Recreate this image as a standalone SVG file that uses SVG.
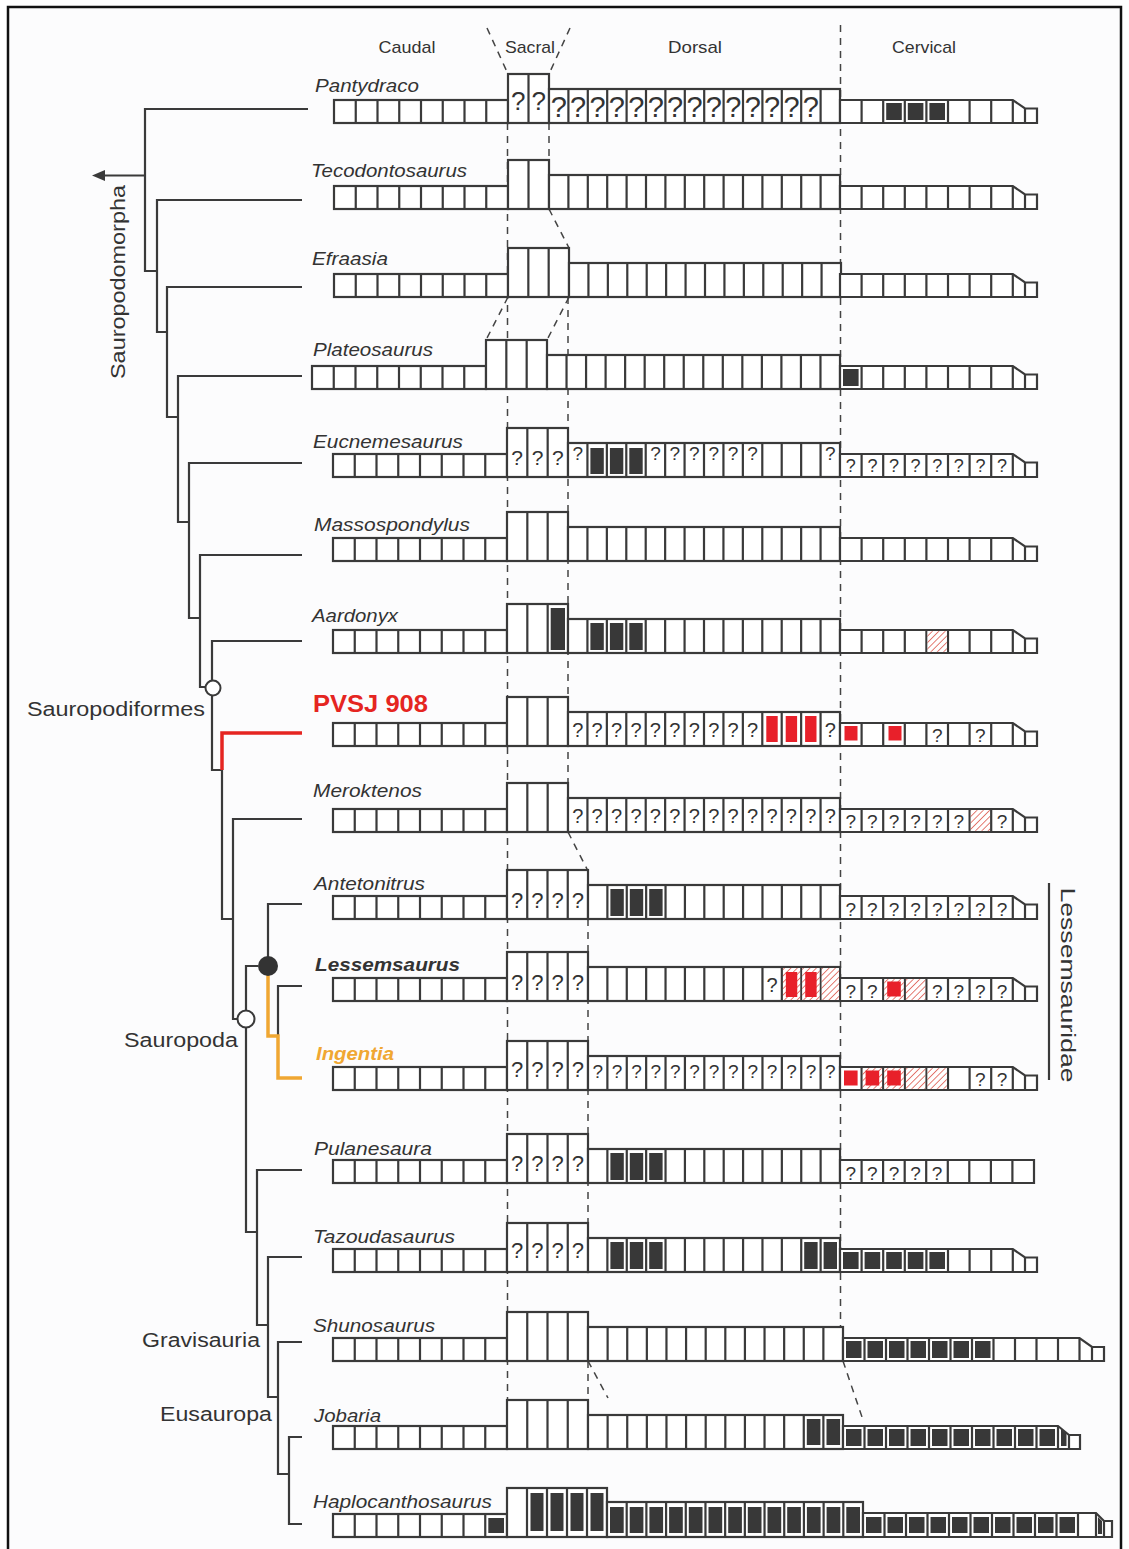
<svg xmlns="http://www.w3.org/2000/svg" xmlns:xlink="http://www.w3.org/1999/xlink" width="1129" height="1549" viewBox="0 0 1129 1549">
<style>
.b{fill:#fff;stroke:#3a3a3a;stroke-width:2.2}
.s{fill:none;stroke:#3a3a3a;stroke-width:2.2}
.k{fill:#383838}
.r{fill:#e8202a}
.h{fill:url(#hatch)}
.q{font-family:"Liberation Sans",Arial,sans-serif;fill:#333;text-anchor:middle;font-size:20px}
.tx{font-family:"Liberation Sans",Arial,sans-serif;font-style:italic;font-size:19px;fill:#333}
.lab{font-family:"Liberation Sans",Arial,sans-serif;font-size:20px;fill:#333}
.hd{font-family:"Liberation Sans",Arial,sans-serif;font-size:17px;fill:#333;text-anchor:middle}
.tr{fill:none;stroke:#3a3a3a;stroke-width:2.2}
.dash{fill:none;stroke:#444;stroke-width:1.5;stroke-dasharray:7 6}
</style>
<defs>
<pattern id="hatch" width="4.5" height="4.5" patternUnits="userSpaceOnUse" patternTransform="rotate(45)"><rect width="4.5" height="4.5" fill="#fff"/><line x1="0" y1="0" x2="0" y2="4.5" stroke="#d9453a" stroke-width="1.4"/></pattern>
<g id="caud"><rect class="b" x="0" y="-23" width="174" height="23"/><path class="s" d="M21.75,-23V0M43.5,-23V0M65.25,-23V0M87,-23V0M108.75,-23V0M130.5,-23V0M152.25,-23V0"/></g>
<g id="cerv8"><path class="b" d="M0,-23H172.8L185,-14.5H197V0H0Z"/><path class="s" d="M21.6,-23V0M43.2,-23V0M64.8,-23V0M86.4,-23V0M108,-23V0M129.6,-23V0M151.2,-23V0M172.8,-23V0M185,-14.5V0"/></g>
<g id="s2"><rect class="b" x="0" y="-49" width="41" height="49"/><path class="s" d="M20.5,-49V0"/></g>
<g id="s3"><rect class="b" x="0" y="-49" width="61" height="49"/><path class="s" d="M20.33,-49V0M40.67,-49V0"/></g>
<g id="s4"><rect class="b" x="0" y="-49" width="81" height="49"/><path class="s" d="M20.25,-49V0M40.5,-49V0M60.75,-49V0"/></g>
<g id="s5"><rect class="b" x="0" y="-49" width="100" height="49"/><path class="s" d="M20,-49V0M40,-49V0M60,-49V0M80,-49V0"/></g>
<g id="d15"><rect class="b" x="0" y="-34" width="291" height="34"/><path class="s" d="M19.4,-34V0M38.8,-34V0M58.2,-34V0M77.6,-34V0M97,-34V0M116.4,-34V0M135.8,-34V0M155.2,-34V0M174.6,-34V0M194,-34V0M213.4,-34V0M232.8,-34V0M252.2,-34V0M271.6,-34V0"/></g>
<g id="d15p"><rect class="b" x="0" y="-34" width="293" height="34"/><path class="s" d="M19.53,-34V0M39.07,-34V0M58.6,-34V0M78.13,-34V0M97.67,-34V0M117.2,-34V0M136.73,-34V0M156.27,-34V0M175.8,-34V0M195.33,-34V0M214.87,-34V0M234.4,-34V0M253.93,-34V0M273.47,-34V0"/></g>
<g id="d14"><rect class="b" x="0" y="-34" width="272" height="34"/><path class="s" d="M19.43,-34V0M38.86,-34V0M58.29,-34V0M77.71,-34V0M97.14,-34V0M116.57,-34V0M136,-34V0M155.43,-34V0M174.86,-34V0M194.29,-34V0M213.71,-34V0M233.14,-34V0M252.57,-34V0"/></g>
<g id="d13"><rect class="b" x="0" y="-34" width="252" height="34"/><path class="s" d="M19.38,-34V0M38.77,-34V0M58.15,-34V0M77.54,-34V0M96.92,-34V0M116.31,-34V0M135.69,-34V0M155.08,-34V0M174.46,-34V0M193.85,-34V0M213.23,-34V0M232.62,-34V0"/></g>
<g id="d13s"><rect class="b" x="0" y="-34" width="255" height="34"/><path class="s" d="M19.62,-34V0M39.23,-34V0M58.85,-34V0M78.46,-34V0M98.08,-34V0M117.69,-34V0M137.31,-34V0M156.92,-34V0M176.54,-34V0M196.15,-34V0M215.77,-34V0M235.38,-34V0"/></g>
<g id="d13h"><rect class="b" x="0" y="-35" width="256" height="35"/><path class="s" d="M19.69,-35V0M39.38,-35V0M59.08,-35V0M78.77,-35V0M98.46,-35V0M118.15,-35V0M137.85,-35V0M157.54,-35V0M177.23,-35V0M196.92,-35V0M216.62,-35V0M236.31,-35V0"/></g>
</defs>

<rect x="0" y="0" width="1129" height="1549" fill="#fff"/>
<rect x="8" y="7" width="1113" height="1570" fill="#fcfcfd" stroke="#111" stroke-width="2.5"/>

<g id="headers">
<text class="hd" x="407" y="53" textLength="57" lengthAdjust="spacingAndGlyphs">Caudal</text>
<text class="hd" x="530" y="53" textLength="50" lengthAdjust="spacingAndGlyphs">Sacral</text>
<text class="hd" x="695" y="53" textLength="54" lengthAdjust="spacingAndGlyphs">Dorsal</text>
<text class="hd" x="924" y="53" textLength="64" lengthAdjust="spacingAndGlyphs">Cervical</text>
</g>

<g id="guides" class="dash">
<path d="M487,28L508,74"/>
<path d="M570,28L549,74"/>
<path d="M840.5,25V1330"/>
<path d="M507.5,123V1401"/>
<path d="M549,123V161"/>
<path d="M549,209L569,248"/>
<path d="M508,297L486,340"/>
<path d="M569,297L547,340"/>
<path d="M568,297V832"/>
<path d="M568,832L588,871"/>
<path d="M588,919V1223"/>
<path d="M588,1361V1401"/>
<path d="M588,1361L608,1398"/>
<path d="M843,1361L862,1417"/>
</g>

<g id="connectors">
<g class="tr">
<path d="M308,109H145V271H157"/>
<path d="M145,175.5H103"/>
<path d="M302,200H157V332H167"/>
<path d="M302,287H167V417H178"/>
<path d="M302,376H178V522H189"/>
<path d="M302,463H189V618H200"/>
<path d="M302,555H200V687H212"/>
<path d="M302,641H212V770H222V919H233"/>
<path d="M302,819H233V1019H246"/>
<path d="M258,966H246V1232H257"/>
<path d="M302,904H268V966"/>
<path d="M302,986H278V1036"/>
<path d="M302,1170H257V1325H268"/>
<path d="M302,1257H268V1397H278"/>
<path d="M302,1342H278V1474H289"/>
<path d="M302,1437H289V1524H302"/>
<path d="M1049,883V1080"/>
</g>
<polygon points="92,175.5 105,170 105,181" fill="#3a3a3a"/>
<path d="M302,733H222V770" fill="none" stroke="#e52521" stroke-width="3.5"/>
<path d="M268,966V1036H278V1078H302" fill="none" stroke="#f0a732" stroke-width="3.5"/>
<circle cx="213" cy="688" r="7.5" fill="#fff" stroke="#3a3a3a" stroke-width="2"/>
<circle cx="246" cy="1019" r="8.5" fill="#fff" stroke="#3a3a3a" stroke-width="2"/>
<circle cx="268" cy="966" r="10" fill="#333"/>
</g>

<g id="clades">
<text class="lab" transform="translate(125,282) rotate(-90)" text-anchor="middle" textLength="194" lengthAdjust="spacingAndGlyphs">Sauropodomorpha</text>
<text class="lab" x="27" y="716" textLength="178" lengthAdjust="spacingAndGlyphs">Sauropodiformes</text>
<text class="lab" x="124" y="1047" textLength="114" lengthAdjust="spacingAndGlyphs">Sauropoda</text>
<text class="lab" x="142" y="1347" textLength="118" lengthAdjust="spacingAndGlyphs">Gravisauria</text>
<text class="lab" x="160" y="1421" textLength="112" lengthAdjust="spacingAndGlyphs">Eusauropa</text>
<text class="lab" transform="translate(1061,985) rotate(90)" text-anchor="middle" style="font-size:21px" textLength="195" lengthAdjust="spacingAndGlyphs">Lessemsauridae</text>
</g>

<g id="pantydraco" transform="translate(0,123)">
<text class="tx" x="315" y="-31" textLength="104" lengthAdjust="spacingAndGlyphs">Pantydraco</text>
<use href="#caud" x="334"/><use href="#s2" x="508"/><use href="#d15" x="549"/><use href="#cerv8" x="840"/>
<rect class="k" x="886.2" y="-20" width="15.6" height="17"/><rect class="k" x="907.8" y="-20" width="15.6" height="17"/><rect class="k" x="929.4" y="-20" width="15.6" height="17"/>
<text class="q" style="font-size:26px" x="518.25 538.75" y="-13">??</text>
<text class="q" style="font-size:29px" x="558.7 578.1 597.5 616.9 636.3 655.7 675.1 694.5 713.9 733.3 752.7 772.1 791.5 810.9" y="-6">??????????????</text>
</g>

<g id="tecodontosaurus" transform="translate(0,209)">
<text class="tx" x="311" y="-32" textLength="156" lengthAdjust="spacingAndGlyphs">Tecodontosaurus</text>
<use href="#caud" x="334"/><use href="#s2" x="508"/><use href="#d15" x="549"/><use href="#cerv8" x="840"/>
</g>

<g id="efraasia" transform="translate(0,297)">
<text class="tx" x="312" y="-32" textLength="76" lengthAdjust="spacingAndGlyphs">Efraasia</text>
<use href="#caud" x="334"/><use href="#s3" x="508"/><use href="#d14" x="569"/><use href="#cerv8" x="840"/>
</g>

<g id="plateosaurus" transform="translate(0,389)">
<text class="tx" x="313" y="-33" textLength="120" lengthAdjust="spacingAndGlyphs">Plateosaurus</text>
<use href="#caud" x="312"/><use href="#s3" x="486"/><use href="#d15p" x="547"/><use href="#cerv8" x="840"/>
<rect class="k" x="843" y="-20" width="15.6" height="17"/>
</g>

<g id="eucnemesaurus" transform="translate(0,477)">
<text class="tx" x="313" y="-29" textLength="150" lengthAdjust="spacingAndGlyphs">Eucnemesaurus</text>
<use href="#caud" x="333"/><use href="#s3" x="507"/><use href="#d14" x="568"/><use href="#cerv8" x="840"/>
<rect class="k" x="590.4" y="-29" width="13.4" height="26"/><rect class="k" x="609.9" y="-29" width="13.4" height="26"/><rect class="k" x="629.3" y="-29" width="13.4" height="26"/>
<text class="q" style="font-size:21px" x="517.2 537.5 557.8" y="-12">???</text>
<text class="q" style="font-size:19px" x="577.71 655.43 674.86 694.29 713.71 733.14 752.57 830.29" y="-17">????????</text>
<text class="q" style="font-size:18px" x="850.8 872.4 894 915.6 937.2 958.8 980.4 1002" y="-5">????????</text>
</g>

<g id="massospondylus" transform="translate(0,561)">
<text class="tx" x="314" y="-30" textLength="156" lengthAdjust="spacingAndGlyphs">Massospondylus</text>
<use href="#caud" x="333"/><use href="#s3" x="507"/><use href="#d14" x="568"/><use href="#cerv8" x="840"/>
</g>

<g id="aardonyx" transform="translate(0,653)">
<text class="tx" x="312" y="-31" textLength="86" lengthAdjust="spacingAndGlyphs">Aardonyx</text>
<use href="#caud" x="333"/><use href="#s3" x="507"/><use href="#d14" x="568"/><use href="#cerv8" x="840"/>
<rect class="k" x="550.7" y="-45" width="14.3" height="42"/>
<rect class="k" x="590.4" y="-30" width="13.4" height="27"/><rect class="k" x="609.9" y="-30" width="13.4" height="27"/><rect class="k" x="629.3" y="-30" width="13.4" height="27"/>
<rect class="h" x="927.6" y="-21.8" width="19.2" height="20.6"/>
</g>

<g id="pvsj908" transform="translate(0,746)">
<text x="313" y="-34" style="font-family:'Liberation Sans',Arial,sans-serif;font-weight:bold;font-size:23px;fill:#e52521" textLength="115" lengthAdjust="spacingAndGlyphs">PVSJ 908</text>
<use href="#caud" x="333"/><use href="#s3" x="507"/><use href="#d14" x="568"/><use href="#cerv8" x="840"/>
<text class="q" x="577.71 597.14 616.57 636 655.43 674.86 694.29 713.71 733.14 752.57 830.29" y="-9">???????????</text>
<rect class="r" x="766.3" y="-30" width="11.4" height="26"/><rect class="r" x="785.7" y="-30" width="11.4" height="26"/><rect class="r" x="805.1" y="-30" width="11.4" height="26"/>
<rect class="r" x="844.5" y="-20" width="13" height="14.5"/><rect class="r" x="888.5" y="-20" width="13" height="14.5"/>
<text class="q" style="font-size:19px" x="937.2 980.4" y="-4">??</text>
</g>

<g id="meroktenos" transform="translate(0,832)">
<text class="tx" x="313" y="-35" textLength="109" lengthAdjust="spacingAndGlyphs">Meroktenos</text>
<use href="#caud" x="333"/><use href="#s3" x="507"/><use href="#d14" x="568"/><use href="#cerv8" x="840"/>
<text class="q" x="577.71 597.14 616.57 636 655.43 674.86 694.29 713.71 733.14 752.57 772 791.43 810.86 830.29" y="-9">??????????????</text>
<text class="q" style="font-size:19px" x="850.8 872.4 894 915.6 937.2 958.8 1002" y="-4">???????</text>
<rect class="h" x="970.8" y="-21.8" width="19.2" height="20.6"/>
</g>

<g id="antetonitrus" transform="translate(0,919)">
<text class="tx" x="314" y="-29" textLength="111" lengthAdjust="spacingAndGlyphs">Antetonitrus</text>
<use href="#caud" x="333"/><use href="#s4" x="507"/><use href="#d13" x="588"/><use href="#cerv8" x="840"/>
<text class="q" style="font-size:22px" x="517.1 537.4 557.6 577.9" y="-11">????</text>
<rect class="k" x="610.4" y="-30" width="13.4" height="27"/><rect class="k" x="629.8" y="-30" width="13.4" height="27"/><rect class="k" x="649.2" y="-30" width="13.4" height="27"/>
<text class="q" style="font-size:19px" x="850.8 872.4 894 915.6 937.2 958.8 980.4 1002" y="-3">????????</text>
</g>

<g id="lessemsaurus" transform="translate(0,1001)">
<text x="315" y="-30" style="font-family:'Liberation Sans',Arial,sans-serif;font-weight:bold;font-style:italic;font-size:19px;fill:#333" textLength="145" lengthAdjust="spacingAndGlyphs">Lessemsaurus</text>
<use href="#caud" x="333"/><use href="#s4" x="507"/><use href="#d13" x="588"/><use href="#cerv8" x="840"/>
<text class="q" style="font-size:22px" x="517.1 537.4 557.6 577.9" y="-11">????</text>
<text class="q" x="772.15" y="-9">?</text>
<rect class="h" x="782.95" y="-32.9" width="17.2" height="31.8"/><rect class="h" x="802.33" y="-32.9" width="17.2" height="31.8"/><rect class="h" x="821.72" y="-32.9" width="17.2" height="31.8"/>
<rect class="r" x="785.85" y="-29" width="11.4" height="25"/><rect class="r" x="805.23" y="-29" width="11.4" height="25"/>
<rect class="h" x="884.4" y="-21.8" width="19.2" height="20.6"/><rect class="h" x="906" y="-21.8" width="19.2" height="20.6"/>
<rect class="r" x="887.2" y="-19.5" width="13.6" height="15"/>
<text class="q" style="font-size:19px" x="850.8 872.4 937.2 958.8 980.4 1002" y="-3">??????</text>
</g>

<g id="ingentia" transform="translate(0,1090)">
<text x="316" y="-30" style="font-family:'Liberation Sans',Arial,sans-serif;font-weight:bold;font-style:italic;font-size:19px;fill:#f0a732" textLength="78" lengthAdjust="spacingAndGlyphs">Ingentia</text>
<use href="#caud" x="333"/><use href="#s4" x="507"/><use href="#d13" x="588"/><use href="#cerv8" x="840"/>
<text class="q" style="font-size:22px" x="517.1 537.4 557.6 577.9" y="-13">????</text>
<text class="q" style="font-size:19px" x="597.69 617.08 636.46 655.85 675.23 694.62 714 733.38 752.77 772.15 791.54 810.92 830.31" y="-12">?????????????</text>
<rect class="r" x="844" y="-19.5" width="13.6" height="15"/>
<rect class="h" x="862.8" y="-21.8" width="19.2" height="20.6"/><rect class="h" x="884.4" y="-21.8" width="19.2" height="20.6"/><rect class="h" x="906" y="-21.8" width="19.2" height="20.6"/><rect class="h" x="927.6" y="-21.8" width="19.2" height="20.6"/>
<rect class="r" x="865.6" y="-19.5" width="13.6" height="15"/><rect class="r" x="887.2" y="-19.5" width="13.6" height="15"/>
<text class="q" style="font-size:19px" x="980.4 1002" y="-4">??</text>
</g>

<g id="pulanesaura" transform="translate(0,1183)">
<text class="tx" x="314" y="-28" textLength="118" lengthAdjust="spacingAndGlyphs">Pulanesaura</text>
<use href="#caud" x="333"/><use href="#s4" x="507"/><use href="#d13" x="588"/>
<path class="b" d="M840,-23H1034V0H840Z"/><path class="s" d="M861.6,-23V0M883.1,-23V0M904.7,-23V0M926.2,-23V0M947.8,-23V0M969.3,-23V0M990.9,-23V0M1012.4,-23V0"/>
<text class="q" style="font-size:22px" x="517.1 537.4 557.6 577.9" y="-12">????</text>
<rect class="k" x="610.4" y="-30" width="13.4" height="27"/><rect class="k" x="629.8" y="-30" width="13.4" height="27"/><rect class="k" x="649.2" y="-30" width="13.4" height="27"/>
<text class="q" style="font-size:19px" x="850.8 872.4 894 915.5 937" y="-3">?????</text>
</g>

<g id="tazoudasaurus" transform="translate(0,1272)">
<text class="tx" x="313" y="-29" textLength="142" lengthAdjust="spacingAndGlyphs">Tazoudasaurus</text>
<use href="#caud" x="333"/><use href="#s4" x="507"/><use href="#d13" x="588"/><use href="#cerv8" x="840"/>
<text class="q" style="font-size:22px" x="517.1 537.4 557.6 577.9" y="-14">????</text>
<rect class="k" x="610.4" y="-30" width="13.4" height="27"/><rect class="k" x="629.8" y="-30" width="13.4" height="27"/><rect class="k" x="649.2" y="-30" width="13.4" height="27"/>
<rect class="k" x="804.2" y="-30" width="13.4" height="27"/><rect class="k" x="823.6" y="-30" width="13.4" height="27"/>
<rect class="k" x="843" y="-20" width="15.6" height="17"/><rect class="k" x="864.6" y="-20" width="15.6" height="17"/><rect class="k" x="886.2" y="-20" width="15.6" height="17"/><rect class="k" x="907.8" y="-20" width="15.6" height="17"/><rect class="k" x="929.4" y="-20" width="15.6" height="17"/>
</g>

<g id="shunosaurus" transform="translate(0,1361)">
<text class="tx" x="313" y="-29" textLength="122" lengthAdjust="spacingAndGlyphs">Shunosaurus</text>
<use href="#caud" x="333"/><use href="#s4" x="507"/><use href="#d13s" x="588"/>
<path class="b" d="M843,-23H1079.5L1092,-14H1104V0H843Z"/><path class="s" d="M864.5,-23V0M886,-23V0M907.5,-23V0M929,-23V0M950.5,-23V0M972,-23V0M993.5,-23V0M1015,-23V0M1036.5,-23V0M1058,-23V0M1079.5,-23V0M1092,-14V0"/>
<rect class="k" x="846" y="-20" width="15.5" height="17"/><rect class="k" x="867.5" y="-20" width="15.5" height="17"/><rect class="k" x="889" y="-20" width="15.5" height="17"/><rect class="k" x="910.5" y="-20" width="15.5" height="17"/><rect class="k" x="932" y="-20" width="15.5" height="17"/><rect class="k" x="953.5" y="-20" width="15.5" height="17"/><rect class="k" x="975" y="-20" width="15.5" height="17"/>
</g>

<g id="jobaria" transform="translate(0,1449)">
<text class="tx" x="314" y="-27" textLength="67" lengthAdjust="spacingAndGlyphs">Jobaria</text>
<use href="#caud" x="333"/><use href="#s4" x="507"/><use href="#d13s" x="588"/>
<path class="b" d="M843,-23H1058L1069,-14H1080V0H843Z"/><path class="s" d="M864.5,-23V0M886,-23V0M907.5,-23V0M929,-23V0M950.5,-23V0M972,-23V0M993.5,-23V0M1015,-23V0M1036.5,-23V0M1058,-23V0M1069,-14V0"/>
<rect class="k" x="806.8" y="-30" width="13.6" height="26"/><rect class="k" x="826.5" y="-30" width="13.6" height="26"/>
<rect class="k" x="846" y="-20" width="15.5" height="17"/><rect class="k" x="867.5" y="-20" width="15.5" height="17"/><rect class="k" x="889" y="-20" width="15.5" height="17"/><rect class="k" x="910.5" y="-20" width="15.5" height="17"/><rect class="k" x="932" y="-20" width="15.5" height="17"/><rect class="k" x="953.5" y="-20" width="15.5" height="17"/><rect class="k" x="975" y="-20" width="15.5" height="17"/><rect class="k" x="996.5" y="-20" width="15.5" height="17"/><rect class="k" x="1018" y="-20" width="15.5" height="17"/><rect class="k" x="1039.5" y="-20" width="15.5" height="17"/>
<polygon class="k" points="1061,-20 1066.5,-15.5 1066.5,-3 1061,-3"/>
</g>

<g id="haplocanthosaurus" transform="translate(0,1537)">
<text class="tx" x="313" y="-29" textLength="179" lengthAdjust="spacingAndGlyphs">Haplocanthosaurus</text>
<use href="#caud" x="333"/><use href="#s5" x="507"/><use href="#d13h" x="607"/>
<path class="b" d="M863,-24H1096L1104,-16H1112V0H863Z"/><path class="s" d="M884.5,-24V0M906,-24V0M927.5,-24V0M949,-24V0M970.5,-24V0M992,-24V0M1013.5,-24V0M1035,-24V0M1056.5,-24V0M1078,-24V0M1096,-24V0M1104,-16V0"/>
<rect class="k" x="488.3" y="-19" width="15.7" height="15"/>
<rect class="k" x="530.5" y="-44" width="13" height="38"/><rect class="k" x="550.5" y="-44" width="13" height="38"/><rect class="k" x="570.5" y="-44" width="13" height="38"/><rect class="k" x="590.5" y="-44" width="13" height="38"/>
<rect class="k" x="610" y="-30" width="13.7" height="26"/><rect class="k" x="629.7" y="-30" width="13.7" height="26"/><rect class="k" x="649.4" y="-30" width="13.7" height="26"/><rect class="k" x="669.1" y="-30" width="13.7" height="26"/><rect class="k" x="688.8" y="-30" width="13.7" height="26"/><rect class="k" x="708.5" y="-30" width="13.7" height="26"/><rect class="k" x="728.2" y="-30" width="13.7" height="26"/><rect class="k" x="747.8" y="-30" width="13.7" height="26"/><rect class="k" x="767.5" y="-30" width="13.7" height="26"/><rect class="k" x="787.2" y="-30" width="13.7" height="26"/><rect class="k" x="806.9" y="-30" width="13.7" height="26"/><rect class="k" x="826.6" y="-30" width="13.7" height="26"/><rect class="k" x="846.3" y="-30" width="13.7" height="26"/>
<rect class="k" x="866" y="-20" width="15.5" height="16"/><rect class="k" x="887.5" y="-20" width="15.5" height="16"/><rect class="k" x="909" y="-20" width="15.5" height="16"/><rect class="k" x="930.5" y="-20" width="15.5" height="16"/><rect class="k" x="952" y="-20" width="15.5" height="16"/><rect class="k" x="973.5" y="-20" width="15.5" height="16"/><rect class="k" x="995" y="-20" width="15.5" height="16"/><rect class="k" x="1016.5" y="-20" width="15.5" height="16"/><rect class="k" x="1038" y="-20" width="15.5" height="16"/><rect class="k" x="1059.5" y="-20" width="15.5" height="16"/>
<polygon class="k" points="1098,-20 1102,-16 1102,-3 1098,-3"/>
</g>
</svg>
